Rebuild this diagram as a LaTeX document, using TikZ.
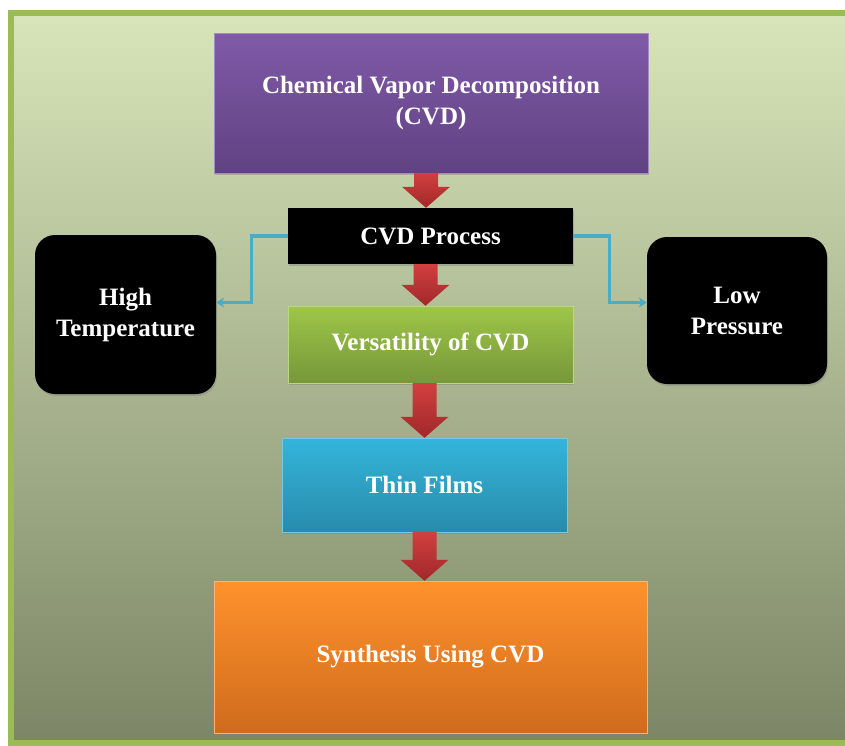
\documentclass[tikz,border=0pt]{standalone}
\usepackage{fontspec}
\setmainfont{Liberation Serif}
\usepackage{tikz}
\usetikzlibrary{calc}
\usetikzlibrary{shadows}
\usetikzlibrary{arrows.meta}
\definecolor{bgtop}    {RGB}{216,229,186}
\definecolor{bgbot}    {RGB}{124,134,102}
\definecolor{fgreen}   {RGB}{155,187,89}
\definecolor{ptop}     {RGB}{128,90,168}
\definecolor{pbot}     {RGB}{96,66,130}
\definecolor{gtop}     {RGB}{158,198,72}
\definecolor{gbot}     {RGB}{119,151,58}
\definecolor{btop}     {RGB}{52,181,219}
\definecolor{bbot}     {RGB}{40,139,171}
\definecolor{otop}     {RGB}{255,146,44}
\definecolor{obot}     {RGB}{207,107,28}
\definecolor{atop}     {RGB}{210,63,63}
\definecolor{abot}     {RGB}{160,40,42}
\definecolor{lcyan}    {RGB}{75,172,198}
\tikzset{
    frame/.style={draw=fgreen, line width=6pt},
    flowbox/.style={rectangle, inner sep=0pt, align=center, text=white,
             font=\bfseries\fontsize{25}{31}\selectfont,
             drop shadow={shadow xshift=1pt, shadow yshift=-2pt, opacity=0.4}
    },
    sidebox/.style={flowbox, fill=black, rounded corners=20pt},
    redarrow/.style={top color=atop, bottom color=abot},
    link/.style={draw=lcyan, line width=3.2pt, -{Stealth[length=8pt,width=10pt]}}
  }
% block arrow from the bottom of #2 to the top of #3, moved by #1
\newcommand{\flowarrow}[3][0]{%
  \shade[redarrow] let \p1=(#2.south), \p2=(#3.north) in
    ({\x1+(#1)-12},\y1) -- ({\x1+(#1)+12},\y1) -- ({\x1+(#1)+12},{\y2+21})
    -- ({\x1+(#1)+24},{\y2+21}) -- ({\x1+(#1)},\y2) -- ({\x1+(#1)-24},{\y2+21})
    -- ({\x1+(#1)-12},{\y2+21}) -- cycle;}
\begin{document}
\begin{tikzpicture}[x=1pt,y=-1pt]
 \useasboundingbox (0,0) rectangle (845,745);
 \clip (0,0) rectangle (845,745);
 %Background panel
     \shade[top color=bgtop, bottom color=bgbot] (11,13) rectangle (860,743);
     \draw[frame] (11,13) rectangle (860,743);
 %Main column
     \node[flowbox, top color=ptop, bottom color=pbot, draw=ptop!70!white, minimum width=434pt, minimum height=140pt] (cvd) at (431,103) {Chemical Vapor Decomposition\\(CVD)};
     \node[flowbox, fill=black, minimum width=285pt, minimum height=56pt] (proc) at (430.5,236) {CVD Process};
     \node[flowbox, top color=gtop, bottom color=gbot, draw=gtop!70!white, minimum width=285pt, minimum height=77pt] (vers) at (430.5,344.5) {Versatility of CVD};
     \node[flowbox, top color=btop, bottom color=bbot, draw=btop!70!white, minimum width=285pt, minimum height=94pt] (thin) at (424.5,485) {Thin Films};
     \node[flowbox, top color=otop, bottom color=obot, draw=otop!70!white, minimum width=433pt, minimum height=152pt] (synth) at (430.5,657) {Synthesis Using CVD};
 %Side boxes
     \node[sidebox, minimum width=181pt, minimum height=159pt] (high) at (125.5,314.5) {High\\Temperature};
     \node[sidebox, minimum width=180pt, minimum height=147pt] (low) at (737,310.5) {Low\\Pressure};
 %Red arrows
     \flowarrow[-5]{cvd}{proc}
     \flowarrow[-5]{proc}{vers}
     \flowarrow[-6]{vers}{thin}
     \flowarrow{thin}{synth}
 %Side links
     \draw[link] (proc.west) -- ++(-36,0) |- ([yshift=12pt]high.east);
     \draw[link] (proc.east) -- ++(36,0) |- ([yshift=8pt]low.west);
 \end{tikzpicture}
\end{document}
